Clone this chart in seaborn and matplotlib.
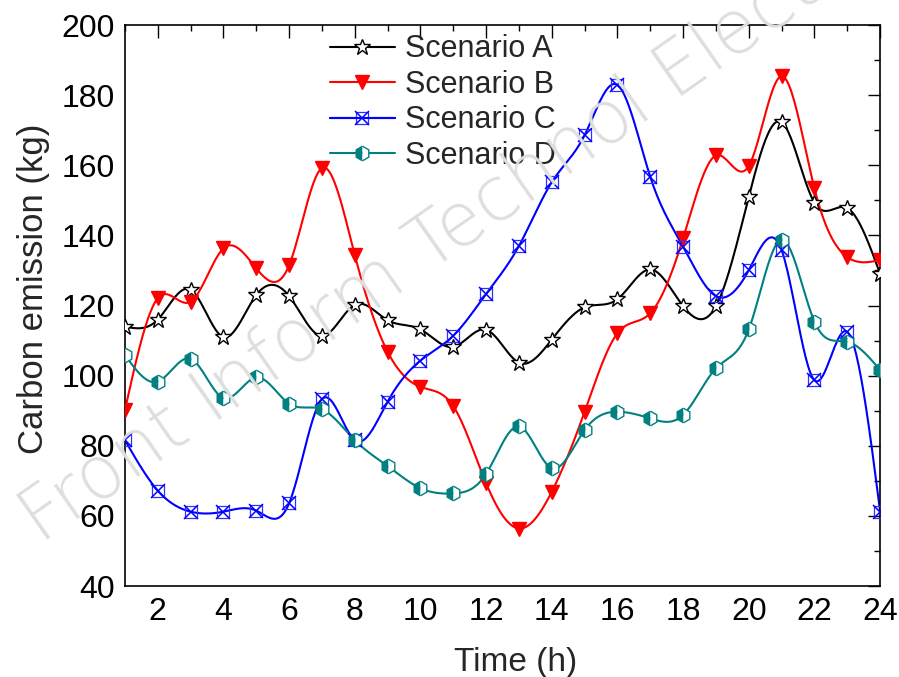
import numpy as np
import pandas as pd
import matplotlib
matplotlib.use("Agg")
import matplotlib.pyplot as plt
import seaborn as sns
from matplotlib.ticker import MultipleLocator
from matplotlib.legend_handler import HandlerTuple
from matplotlib.lines import Line2D

hours = list(range(1, 25))
scenario_a = [114, 116, 124.5, 111, 123, 122.7, 111.3, 120.2, 115.8, 113.2, 108.2, 113.1,
              103.7, 110.3, 119.5, 121.8, 130.3, 119.8, 119.8, 151, 172.3, 149.3, 147.8, 129]
scenario_b = [90.2, 122.1, 121.1, 136.3, 130.6, 131.5, 159.2, 134.4, 106.8, 96.8, 91.3, 69.3,
              56.4, 66.9, 89.7, 112.1, 117.8, 139.2, 162.8, 159.8, 185.4, 153.4, 133.8, 133]
scenario_c = [81.6, 67.2, 61.2, 61.2, 61.5, 63.6, 93.3, 81.6, 92.6, 104.3, 111.4, 123.3,
              137, 155.2, 168.6, 182.9, 156.7, 136.8, 122.7, 130.1, 135.8, 98.7, 112.5, 61.2]
scenario_d = [105.9, 98.3, 104.8, 93.6, 99.5, 92, 90.4, 81.6, 74.2, 67.9, 66.4, 72,
              85.5, 73.6, 84.5, 89.7, 87.8, 88.8, 102.1, 113.2, 138.8, 115.4, 109.7, 101.6]
labels = ["Scenario A", "Scenario B", "Scenario C", "Scenario D"]
x_ticks = [2, 4, 6, 8, 10, 12, 14, 16, 18, 20, 22, 24]
y_ticks = [40, 60, 80, 100, 120, 140, 160, 180, 200]


def natural_spline(x, y, xs):
    x = np.asarray(x, float)
    y = np.asarray(y, float)
    n = len(x)
    h = np.diff(x)
    A = np.zeros((n, n))
    r = np.zeros(n)
    A[0, 0] = 1
    A[-1, -1] = 1
    for i in range(1, n - 1):
        A[i, i - 1] = h[i - 1]
        A[i, i] = 2 * (h[i - 1] + h[i])
        A[i, i + 1] = h[i]
        r[i] = 6 * ((y[i + 1] - y[i]) / h[i] - (y[i] - y[i - 1]) / h[i - 1])
    M = np.linalg.solve(A, r)
    idx = np.clip(np.searchsorted(x, xs) - 1, 0, n - 2)
    x0, x1 = x[idx], x[idx + 1]
    hh = x1 - x0
    t0 = x1 - xs
    t1 = xs - x0
    return (M[idx] * t0 ** 3 / (6 * hh) + M[idx + 1] * t1 ** 3 / (6 * hh)
            + (y[idx] / hh - M[idx] * hh / 6) * t0
            + (y[idx + 1] / hh - M[idx + 1] * hh / 6) * t1)


sns.set_theme(style="white")
plt.rcParams["font.family"] = ["Liberation Sans", "DejaVu Sans"]

fig = plt.figure(figsize=(8.99, 6.77), dpi=100)
ax = fig.add_axes([0.139, 0.1344, 0.840, 0.8286])

fig.text(0.045, 0.195, "Front Inform Technol Electron Eng", fontsize=53, color="#dedede",
         rotation=35, rotation_mode="anchor", ha="left", va="baseline",
         family="DejaVu Sans", fontweight="light", zorder=0)
ax.set_facecolor("none")

xs = np.linspace(1, 24, 600)
series = [scenario_a, scenario_b, scenario_c, scenario_d]
colors = ["#000000", "#ff0000", "#0000ff", "#008080"]

frames = []
for lab, vals in zip(labels, series):
    frames.append(pd.DataFrame({"t": xs, "v": natural_spline(hours, vals, xs), "s": lab}))
smooth = pd.concat(frames)

lw = 1.5
sns.lineplot(data=smooth, x="t", y="v", hue="s", palette=colors, estimator=None,
             sort=False, linewidth=lw, legend=False, ax=ax, zorder=2)

sA = dict(marker="*", ms=12, mfc="white", mec="black", mew=1.0)
sB = dict(marker="v", ms=10, mfc="#ff0000", mec="#ff0000")
sC1 = dict(marker="s", ms=8, mfc="none", mec="#3030ff", mew=0.9)
sC2 = dict(marker="x", ms=10, mec="#0000ff", mew=1.1)
sD = dict(marker="h", ms=10.5, mfc="#008080", markerfacecoloralt="white",
          fillstyle="left", mec="#008080", mew=1.0)

ax.plot(hours, scenario_a, linestyle="", zorder=3, **sA)
ax.plot(hours, scenario_b, linestyle="", zorder=3, **sB)
ax.plot(hours, scenario_c, linestyle="", zorder=3, **sC1)
ax.plot(hours, scenario_c, linestyle="", zorder=3, **sC2)
ax.plot(hours, scenario_d, linestyle="", zorder=3, **sD)

def lh(color, **kw):
    return Line2D([], [], color=color, linewidth=lw, **kw)

handles = [
    lh("black", **sA),
    lh("#ff0000", **sB),
    (lh("#0000ff", **sC1), lh("#0000ff", **sC2)),
    lh("#008080", **sD),
]
ax.legend(handles, labels, loc="upper left", bbox_to_anchor=(0.259, 1.0),
          frameon=False, fontsize=22, handlelength=2.13, handletextpad=0.33,
          labelspacing=0.18, borderaxespad=0.0, borderpad=0.3,
          handler_map={tuple: HandlerTuple(ndivide=1)})

ax.set_xlim(1, 24)
ax.set_ylim(40, 200)
ax.set_xticks(x_ticks)
ax.set_yticks(y_ticks)
ax.xaxis.set_minor_locator(MultipleLocator(1))
ax.yaxis.set_minor_locator(MultipleLocator(10))
ax.tick_params(which="both", direction="in", top=True, right=True, colors="black")
ax.tick_params(axis="x", labelsize=23, pad=8)
ax.tick_params(axis="y", labelsize=23, pad=7)
ax.tick_params(which="major", length=9, width=1.0)
ax.tick_params(which="minor", length=4.5, width=1.0)
for sp in ax.spines.values():
    sp.set_color("black")
    sp.set_linewidth(1.2)

ax.set_xlabel("Time (h)", fontsize=24)
ax.set_ylabel("Carbon emission (kg)", fontsize=25)
ax.xaxis.set_label_coords(0.517, -0.108)
ax.yaxis.set_label_coords(-0.0993, 0.529)

fig.savefig("out.png", dpi=100)
